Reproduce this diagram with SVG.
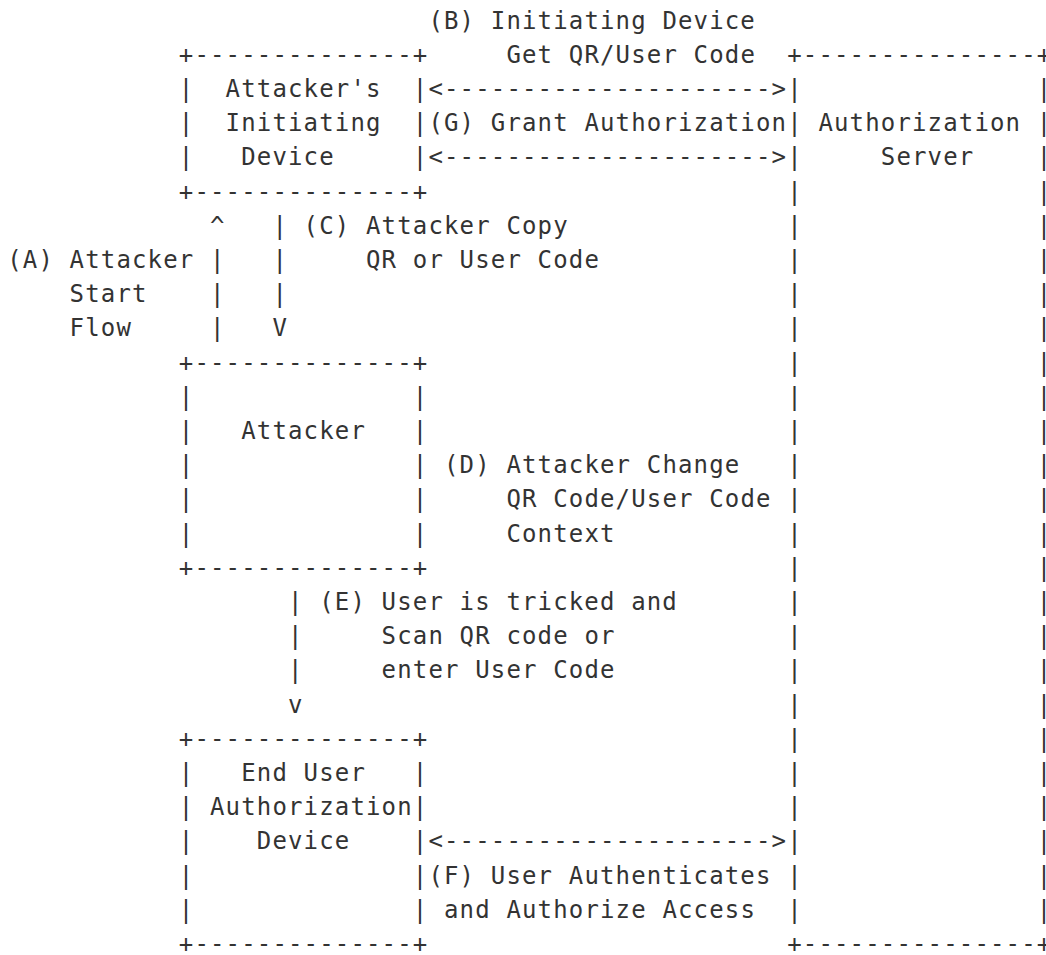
<svg xmlns="http://www.w3.org/2000/svg" width="1046" height="955" viewBox="0 0 1046 955">
<style>
text{font-family:"DejaVu Sans Mono","Liberation Mono",monospace;font-size:24px;letter-spacing:1.15px;fill:#333;white-space:pre}
</style>
<rect x="0" y="0" width="1046" height="955" fill="#fff"/>
<g id="attacker-initiating-device">
<text x="178.8" y="62.7">+--------------+</text>
<text x="178.8" y="96.9">|</text><text x="412.8" y="96.9">|</text>
<text x="178.8" y="131.1">|</text><text x="412.8" y="131.1">|</text>
<text x="178.8" y="165.3">|</text><text x="412.8" y="165.3">|</text>
<text x="225.6" y="96.9">Attacker's</text>
<text x="225.6" y="131.1">Initiating</text>
<text x="241.2" y="165.3">Device</text>
<text x="178.8" y="199.5">+--------------+</text>
</g>
<g id="authorization-server">
<text x="787.2" y="62.7">+---------------+</text>
<text x="787.2" y="96.9">|</text><text x="1036.8" y="96.9">|</text>
<text x="787.2" y="131.1">|</text><text x="1036.8" y="131.1">|</text>
<text x="787.2" y="165.3">|</text><text x="1036.8" y="165.3">|</text>
<text x="787.2" y="199.5">|</text><text x="1036.8" y="199.5">|</text>
<text x="787.2" y="233.7">|</text><text x="1036.8" y="233.7">|</text>
<text x="787.2" y="267.9">|</text><text x="1036.8" y="267.9">|</text>
<text x="787.2" y="302.1">|</text><text x="1036.8" y="302.1">|</text>
<text x="787.2" y="336.3">|</text><text x="1036.8" y="336.3">|</text>
<text x="787.2" y="370.5">|</text><text x="1036.8" y="370.5">|</text>
<text x="787.2" y="404.7">|</text><text x="1036.8" y="404.7">|</text>
<text x="787.2" y="438.9">|</text><text x="1036.8" y="438.9">|</text>
<text x="787.2" y="473.1">|</text><text x="1036.8" y="473.1">|</text>
<text x="787.2" y="507.3">|</text><text x="1036.8" y="507.3">|</text>
<text x="787.2" y="541.5">|</text><text x="1036.8" y="541.5">|</text>
<text x="787.2" y="575.7">|</text><text x="1036.8" y="575.7">|</text>
<text x="787.2" y="609.9">|</text><text x="1036.8" y="609.9">|</text>
<text x="787.2" y="644.1">|</text><text x="1036.8" y="644.1">|</text>
<text x="787.2" y="678.3">|</text><text x="1036.8" y="678.3">|</text>
<text x="787.2" y="712.5">|</text><text x="1036.8" y="712.5">|</text>
<text x="787.2" y="746.7">|</text><text x="1036.8" y="746.7">|</text>
<text x="787.2" y="780.9">|</text><text x="1036.8" y="780.9">|</text>
<text x="787.2" y="815.1">|</text><text x="1036.8" y="815.1">|</text>
<text x="787.2" y="849.3">|</text><text x="1036.8" y="849.3">|</text>
<text x="787.2" y="883.5">|</text><text x="1036.8" y="883.5">|</text>
<text x="787.2" y="917.7">|</text><text x="1036.8" y="917.7">|</text>
<text x="818.4" y="131.1">Authorization</text>
<text x="880.8" y="165.3">Server</text>
<text x="787.2" y="951.9">+---------------+</text>
</g>
<g id="attacker">
<text x="178.8" y="370.5">+--------------+</text>
<text x="178.8" y="404.7">|</text><text x="412.8" y="404.7">|</text>
<text x="178.8" y="438.9">|</text><text x="412.8" y="438.9">|</text>
<text x="178.8" y="473.1">|</text><text x="412.8" y="473.1">|</text>
<text x="178.8" y="507.3">|</text><text x="412.8" y="507.3">|</text>
<text x="178.8" y="541.5">|</text><text x="412.8" y="541.5">|</text>
<text x="241.2" y="438.9">Attacker</text>
<text x="178.8" y="575.7">+--------------+</text>
</g>
<g id="end-user-authorization-device">
<text x="178.8" y="746.7">+--------------+</text>
<text x="178.8" y="780.9">|</text><text x="412.8" y="780.9">|</text>
<text x="178.8" y="815.1">|</text><text x="412.8" y="815.1">|</text>
<text x="178.8" y="849.3">|</text><text x="412.8" y="849.3">|</text>
<text x="178.8" y="883.5">|</text><text x="412.8" y="883.5">|</text>
<text x="178.8" y="917.7">|</text><text x="412.8" y="917.7">|</text>
<text x="241.2" y="780.9">End User</text>
<text x="210.0" y="815.1">Authorization</text>
<text x="256.8" y="849.3">Device</text>
<text x="178.8" y="951.9">+--------------+</text>
</g>
<g id="connectors">
<g id="flow-b">
<text x="428.4" y="28.5">(B) Initiating Device</text>
<text x="506.4" y="62.7">Get QR/User Code</text>
<text x="428.4" y="96.9">&lt;---------------------&gt;</text>
</g>
<g id="flow-g">
<text x="428.4" y="131.1">(G) Grant Authorization</text>
<text x="428.4" y="165.3">&lt;---------------------&gt;</text>
</g>
<g id="flow-a">
<text x="210.0" y="233.7">^</text>
<text x="210.0" y="267.9">|</text>
<text x="210.0" y="302.1">|</text>
<text x="210.0" y="336.3">|</text>
<text x="7.2" y="267.9">(A) Attacker</text>
<text x="69.6" y="302.1">Start</text>
<text x="69.6" y="336.3">Flow</text>
</g>
<g id="flow-c">
<text x="272.4" y="233.7">|</text>
<text x="272.4" y="267.9">|</text>
<text x="272.4" y="302.1">|</text>
<text x="272.4" y="336.3">V</text>
<text x="303.6" y="233.7">(C) Attacker Copy</text>
<text x="366.0" y="267.9">QR or User Code</text>
</g>
<g id="flow-d">
<text x="444.0" y="473.1">(D) Attacker Change</text>
<text x="506.4" y="507.3">QR Code/User Code</text>
<text x="506.4" y="541.5">Context</text>
</g>
<g id="flow-e">
<text x="288.0" y="609.9">|</text>
<text x="288.0" y="644.1">|</text>
<text x="288.0" y="678.3">|</text>
<text x="288.0" y="712.5">v</text>
<text x="319.2" y="609.9">(E) User is tricked and</text>
<text x="381.6" y="644.1">Scan QR code or</text>
<text x="381.6" y="678.3">enter User Code</text>
</g>
<g id="flow-f">
<text x="428.4" y="849.3">&lt;---------------------&gt;</text>
<text x="428.4" y="883.5">(F) User Authenticates</text>
<text x="444.0" y="917.7">and Authorize Access</text>
</g>
</g>
</svg>
